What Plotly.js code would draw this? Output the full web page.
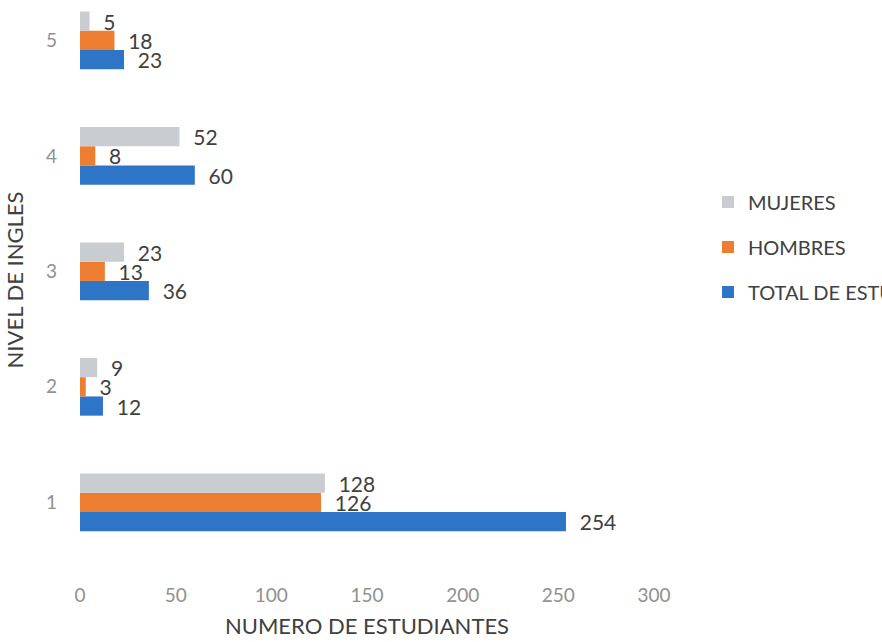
<!DOCTYPE html>
<html>
<head>
<meta charset="utf-8">
<script src="https://cdn.plot.ly/plotly-3.0.1.min.js"></script>
<style>html,body{margin:0;padding:0;background:#fff;}#chart{width:882px;height:642px;}</style>
</head>
<body>
<div id="chart"></div>
<script>
var categories = ['1', '2', '3', '4', '5'];
var seriesNames = ['TOTAL DE ESTUDIANTES', 'HOMBRES', 'MUJERES'];
var totalValues = [254, 12, 36, 60, 23];
var hombresValues = [126, 3, 13, 8, 18];
var mujeresValues = [128, 9, 23, 52, 5];
var xTickValues = [0, 50, 100, 150, 200, 250, 300];

var colors = ['#2e75c8', '#ed7d31', '#c9ccd1'];
var values = [totalValues, hombresValues, mujeresValues];

var FONT = 'Lato, "Open Sans", sans-serif';

var traces = values.map(function (v, i) {
  return {
    type: 'bar',
    orientation: 'h',
    name: seriesNames[i],
    legendgroup: 'g' + i,
    legendrank: 3 - i,
    x: v,
    y: categories,
    marker: { color: colors[i] },
    text: v.map(function (d) { return '  ' + d; }),
    textposition: 'outside',
    constraintext: 'none',
    cliponaxis: false,
    textfont: { family: FONT, size: 21, color: '#404040' },
    hoverinfo: 'x+y+name'
  };
});

var layout = {
  width: 882,
  height: 642,
  paper_bgcolor: '#ffffff',
  plot_bgcolor: '#ffffff',
  font: { family: FONT, color: '#404040' },
  margin: { l: 80, r: 228, t: 0, b: 82, pad: 0, autoexpand: false },
  barmode: 'group',
  bargap: 0.5,
  bargroupgap: 0,
  showlegend: true,
  legend: {
    x: (708 - 80) / 574,
    xref: 'paper',
    xanchor: 'left',
    y: 1 - 247 / 560,
    yanchor: 'middle',
    traceorder: 'grouped',
    tracegroupgap: 16,
    itemwidth: 30,
    bgcolor: 'rgba(0,0,0,0)',
    font: { family: FONT, size: 20, color: '#404040' }
  },
  xaxis: {
    range: [0, 300],
    tickvals: xTickValues,
    ticktext: xTickValues.map(String),
    showgrid: false,
    zeroline: false,
    showline: false,
    ticks: '',
    ticklabelstandoff: 22,
    tickfont: { family: FONT, size: 19, color: '#909090' },
    title: { text: 'NUMERO DE ESTUDIANTES', standoff: 13, font: { family: FONT, size: 22, color: '#404040' } },
    fixedrange: true
  },
  yaxis: {
    type: 'category',
    categoryorder: 'array',
    categoryarray: categories,
    range: [-0.5, 4.35],
    showgrid: false,
    zeroline: false,
    showline: false,
    ticks: '',
    ticklabelstandoff: 22,
    tickfont: { family: FONT, size: 19, color: '#909090' },
    title: { text: 'NIVEL DE INGLES', standoff: 16, font: { family: FONT, size: 22, color: '#404040' } },
    fixedrange: true
  }
};

Plotly.newPlot('chart', traces, layout, { displayModeBar: false, staticPlot: true });
</script>
</body>
</html>
